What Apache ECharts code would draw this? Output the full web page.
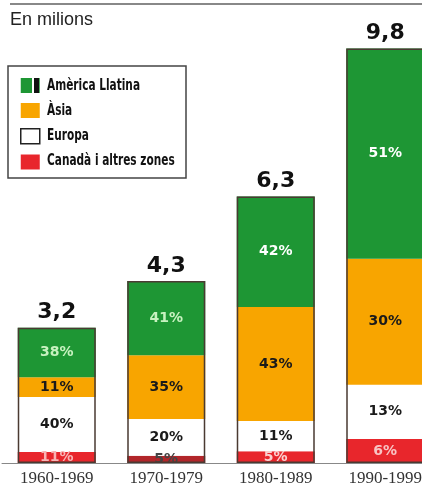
<!DOCTYPE html>
<html lang="ca">
<head>
<meta charset="UTF-8">
<title>En milions</title>
<script src="https://cdn.jsdelivr.net/npm/echarts@6/dist/echarts.min.js"></script>
<style>
    html, body { margin: 0; padding: 0; background: #fff; }
    #container { width: 422px; height: 486px; }
</style>
</head>
<body>
<div id="container"></div>
<script type="text/javascript">
    // dècades
    var decades = ['1960-1969', '1970-1979', '1980-1989', '1990-1999'];
    // totals (milions)
    var totals = [3.2, 4.3, 6.3, 9.8];
    var totalLabels = ['3,2', '4,3', '6,3', '9,8'];
    // alçada de cada tram, llegida del gràfic (milions)
    var canada = [0.26, 0.17, 0.28, 0.57];
    var europa = [1.30, 0.87, 0.71, 1.28];
    var asia = [0.47, 1.51, 2.70, 2.98];
    var llatina = [1.17, 1.75, 2.61, 4.97];
    // percentatges escrits a les barres
    var canadaPct = ['11%', '5%', '5%', '6%'];
    var europaPct = ['40%', '20%', '11%', '13%'];
    var asiaPct = ['11%', '35%', '43%', '30%'];
    var llatinaPct = ['38%', '41%', '42%', '51%'];
    // llegenda
    var legendNames = ['Amèrica Llatina', 'Àsia', 'Europa', 'Canadà i altres zones'];

    var pctFont = { fontFamily: 'DejaVu Sans', fontWeight: 'bold', fontSize: 14 };

    function segment(name, values, pcts, color, labelColors, itemColors) {
        return {
            name: name,
            type: 'bar',
            stack: 'total',
            barWidth: 78,
            barGap: '-100%',
            itemStyle: { color: color },
            data: values.map(function (v, i) {
                var d = {
                    value: v,
                    label: Object.assign({
                        show: true,
                        position: 'inside',
                        formatter: pcts[i],
                        color: labelColors[i]
                    }, pctFont)
                };
                if (itemColors && itemColors[i]) d.itemStyle = { color: itemColors[i] };
                return d;
            })
        };
    }

    // textos de la llegenda (lletra estreta: s'escala en horitzontal)
    var legendTexts = legendNames.map(function (n, i) {
        return {
            type: 'text',
            x: 47,
            y: 86 + i * 25,
            scaleX: 0.66,
            style: {
                text: n,
                font: 'bold 16px "DejaVu Sans"',
                fill: '#111',
                verticalAlign: 'middle'
            }
        };
    });

    var myChart = echarts.init(document.getElementById('container'), null, { renderer: 'canvas' });

    var option = {
        animation: false,
        title: {
            text: 'En milions',
            left: 5,
            top: 6,
            textStyle: { fontFamily: 'Liberation Sans', fontWeight: 'normal', fontSize: 18, color: '#222' }
        },
        graphic: [
            {
                type: 'line',
                shape: { x1: 10, y1: 4, x2: 422, y2: 4 },
                style: { stroke: '#888', lineWidth: 2 }
            },
            {
                type: 'rect',
                shape: { x: 8, y: 66, width: 178, height: 112 },
                style: { fill: 'none', stroke: '#444', lineWidth: 1.5 }
            },
            {
                type: 'rect',
                z: 100,
                shape: { x: 32, y: 77, width: 2, height: 17 },
                style: { fill: '#fff' }
            },
            {
                type: 'rect',
                z: 100,
                shape: { x: 34, y: 78, width: 5, height: 15 },
                style: { fill: '#111' }
            }
        ].concat(legendTexts),
        legend: {
            orient: 'vertical',
            left: 15,
            top: 73,
            padding: 5,
            icon: 'rect',
            itemWidth: 19,
            itemHeight: 15,
            itemGap: 10,
            formatter: function () { return ''; },
            textStyle: { fontSize: 10 },
            data: [
                'Amèrica Llatina',
                'Àsia',
                { name: 'Europa', itemStyle: { borderColor: '#222', borderWidth: 1.5 } },
                'Canadà i altres zones'
            ]
        },
        grid: { left: 2, width: 438, top: 40, bottom: 23, outerBoundsMode: 'none' },
        xAxis: {
            type: 'category',
            data: decades,
            axisLine: { lineStyle: { color: '#888', width: 1 } },
            axisTick: { show: false },
            axisLabel: {
                margin: 7,
                fontFamily: 'Liberation Serif',
                fontSize: 17,
                color: '#333'
            }
        },
        yAxis: { type: 'value', min: 0, max: 10, show: false },
        series: [
            segment('Canadà i altres zones', canada, canadaPct, '#e8262c',
                ['#f8b4b4', '#444', '#fbd0d0', '#f8c4c4'], [null, '#b2262a', null, null]),
            segment('Europa', europa, europaPct, '#ffffff', ['#1a1a1a', '#1a1a1a', '#1a1a1a', '#1a1a1a']),
            segment('Àsia', asia, asiaPct, '#f8a500', ['#1a1a1a', '#1a1a1a', '#1a1a1a', '#1a1a1a']),
            segment('Amèrica Llatina', llatina, llatinaPct, '#1e9634', ['#c8f2c0', '#c8f2c0', '#ffffff', '#ffffff']),
            {
                name: 'total',
                type: 'bar',
                barWidth: 78,
                barGap: '-100%',
                z: 5,
                itemStyle: { color: 'transparent', borderColor: '#4a3a32', borderWidth: 1.5 },
                label: {
                    show: true,
                    position: 'top',
                    distance: 4,
                    fontFamily: 'DejaVu Sans',
                    fontWeight: 'bold',
                    fontSize: 22,
                    color: '#111',
                    formatter: function (p) { return totalLabels[p.dataIndex]; }
                },
                data: totals
            }
        ]
    };
    myChart.setOption(option);
</script>
</body>
</html>
